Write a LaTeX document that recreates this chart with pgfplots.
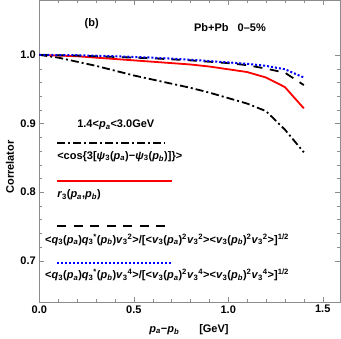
\documentclass[border=0pt]{standalone}
\usepackage{fontspec}
\setmainfont{Liberation Sans}
\usepackage{pgfplots}
\pgfplotsset{compat=1.18}

\newcommand{\pa}{\textit{p}\textsubscript{\textit{a}}}
\newcommand{\pb}{\textit{p}\textsubscript{\textit{b}}}
\newcommand{\vt}{\textit{v}\textsubscript{3}}
\newcommand{\qt}{\textit{q}\textsubscript{3}}

\begin{document}
\begin{tikzpicture}
\begin{axis}[
    scale only axis,
    width=301pt, height=301.7pt,
    xmin=0, xmax=1.594, ymin=0.64, ymax=1.08,
    xtick={0,0.5,1,1.5}, minor x tick num=4,
    ytick={0.7,0.8,0.9,1.0}, minor y tick num=4,
    tick align=inside,
    major tick length=5pt, minor tick length=3pt,
    axis line style={black!45},
    tick style={black!45},
    /pgf/number format/.cd, fixed, fixed zerofill, precision=1, assume math mode=true,
    /pgfplots/.cd,
    tick label style={font=\bfseries\fontsize{11}{13}\selectfont, black},
    xlabel={\pa−\pb\hspace{20pt}[GeV]},
    ylabel={Correlator},
    label style={font=\bfseries\fontsize{11}{13}\selectfont},
    xlabel style={at={(axis description cs:0.497,0)}, anchor=center, yshift=-27.5pt},
    ylabel style={at={(axis description cs:-0.0973,0.447)}, anchor=center},
    clip=false,
]
% dash-dot: cos{3[psi3(pa)-psi3(pb)]}
\addplot[black, line width=1.8pt, dash pattern=on 8pt off 3pt on 2pt off 3pt] coordinates {
    (0,1.0) (0.1,0.996) (0.2,0.990) (0.3,0.984) (0.4,0.977) (0.5,0.970)
    (0.6,0.964) (0.7,0.958) (0.8,0.952) (0.9,0.945) (1.0,0.937) (1.1,0.929)
    (1.2,0.918) (1.3,0.891) (1.4,0.858)
};
% red: r3(pa,pb)
\addplot[red, line width=1.8pt] coordinates {
    (0,1.0) (0.1,0.999) (0.2,0.998) (0.3,0.996) (0.4,0.994) (0.5,0.992)
    (0.6,0.990) (0.7,0.988) (0.8,0.986) (0.9,0.983) (1.0,0.979) (1.1,0.975)
    (1.2,0.967) (1.3,0.953) (1.4,0.922)
};
% dashed: v3^2 weighted
\addplot[black, line width=1.8pt, dash pattern=on 9pt off 7.5pt] coordinates {
    (0,1.0) (0.2,0.999) (0.4,0.997) (0.6,0.995) (0.8,0.992) (1.0,0.988)
    (1.1,0.985) (1.2,0.980) (1.3,0.974) (1.4,0.956)
};
% dotted blue: v3^4 weighted
\addplot[blue, line width=2pt, dash pattern=on 2pt off 2pt] coordinates {
    (0,1.0) (0.2,0.9995) (0.4,0.998) (0.6,0.996) (0.8,0.993) (1.0,0.989)
    (1.1,0.987) (1.2,0.984) (1.3,0.979) (1.4,0.967)
};
% legend samples
\addplot[black, line width=1.8pt, dash pattern=on 8pt off 3pt on 2pt off 3pt] coordinates {(0.094,0.871) (0.665,0.871)};
\addplot[red, line width=1.8pt] coordinates {(0.094,0.816) (0.70,0.816)};
\addplot[black, line width=1.8pt, dash pattern=on 9pt off 7.5pt] coordinates {(0.094,0.751) (0.70,0.751)};
\addplot[blue, line width=2pt, dash pattern=on 2pt off 2pt] coordinates {(0.094,0.696) (0.70,0.696)};

\begin{scope}[font=\bfseries\fontsize{11}{13}\selectfont]
\node at (axis cs:0.277,1.046) {(b)};
\node at (axis cs:1.009,1.040) {Pb+Pb\hspace{9pt}0–5\%};
\node[anchor=west, inner sep=0pt] at (axis cs:0.20,0.898) {1.4<\pa<3.0GeV};
\node[anchor=west, inner sep=0pt] at (axis cs:0.094,0.852)
    {<cos\{3[\textit{ψ}\textsubscript{3}(\pa)−\textit{ψ}\textsubscript{3}(\pb)]\}>};
\node[anchor=west, inner sep=0pt] at (axis cs:0.094,0.796) {\textit{r}\textsubscript{3}(\pa,\pb)};
\node[anchor=west, inner sep=0pt] at (axis cs:0.030,0.731)
    {<\qt(\pa)\qt\textsuperscript{*}(\pb)\vt\textsuperscript{2}>/[<\vt(\pa)\textsuperscript{2}\vt\textsuperscript{2}><\vt(\pb)\textsuperscript{2}\vt\textsuperscript{2}>]\textsuperscript{1/2}};
\node[anchor=west, inner sep=0pt] at (axis cs:0.030,0.679)
    {<\qt(\pa)\qt\textsuperscript{*}(\pb)\vt\textsuperscript{4}>/[<\vt(\pa)\textsuperscript{2}\vt\textsuperscript{4}><\vt(\pb)\textsuperscript{2}\vt\textsuperscript{4}>]\textsuperscript{1/2}};
\end{scope}
\end{axis}
\pgfresetboundingbox
\path[use as bounding box] ([shift={(-39.3pt,-36.3pt)}]current axis.south west) rectangle ([shift={(0.5pt,0pt)}]current axis.north east);
\end{tikzpicture}
\end{document}
